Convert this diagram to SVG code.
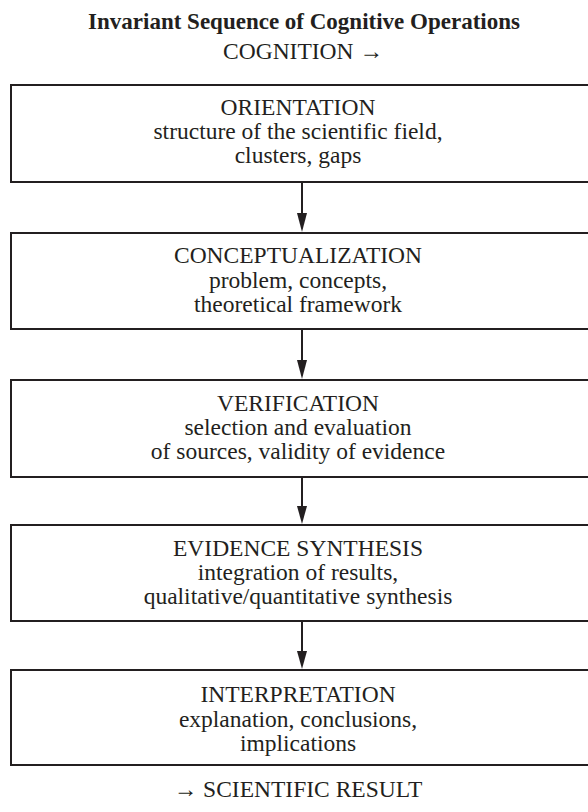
<svg xmlns="http://www.w3.org/2000/svg" width="588" height="812" viewBox="0 0 588 812">
<style>
text{font-family:"Liberation Serif","Times New Roman",serif;fill:#231f20;text-anchor:middle}
.t{font-size:23px;font-weight:bold}
.s{font-size:23.5px}
.box{fill:#fff;stroke:#231f20;stroke-width:2}
.conn line{stroke:#231f20;stroke-width:2}
.conn path{fill:#231f20}
</style>
<rect width="588" height="812" fill="#fff"/>
<g id="title">
<text class="t" x="304" y="29">Invariant Sequence of Cognitive Operations</text>
<text class="s" x="303" y="59">COGNITION →</text>
</g>
<g class="conn" id="connectors">
<line x1="302" y1="182" x2="302" y2="214"/>
<path d="M297,213 L307,213 L302,232 Z"/>
<line x1="302" y1="329" x2="302" y2="361"/>
<path d="M297,360 L307,360 L302,379 Z"/>
<line x1="302" y1="477" x2="302" y2="507"/>
<path d="M297,506 L307,506 L302,524 Z"/>
<line x1="302" y1="621" x2="302" y2="652"/>
<path d="M297,651 L307,651 L302,669 Z"/>
</g>
<g id="orientation">
<rect class="box" x="11" y="85" width="580" height="97"/>
<text class="s" x="298" y="115">ORIENTATION</text>
<text class="s" x="298" y="139">structure of the scientific field,</text>
<text class="s" x="298" y="163">clusters, gaps</text>
</g>
<g id="conceptualization">
<rect class="box" x="11" y="233" width="580" height="96"/>
<text class="s" x="298" y="263">CONCEPTUALIZATION</text>
<text class="s" x="298" y="288">problem, concepts,</text>
<text class="s" x="298" y="312">theoretical framework</text>
</g>
<g id="verification">
<rect class="box" x="11" y="380" width="580" height="97"/>
<text class="s" x="298" y="411">VERIFICATION</text>
<text class="s" x="298" y="435">selection and evaluation</text>
<text class="s" x="298" y="459">of sources, validity of evidence</text>
</g>
<g id="synthesis">
<rect class="box" x="11" y="525" width="580" height="96"/>
<text class="s" x="298" y="556">EVIDENCE SYNTHESIS</text>
<text class="s" x="298" y="580">integration of results,</text>
<text class="s" x="298" y="604">qualitative/quantitative synthesis</text>
</g>
<g id="interpretation">
<rect class="box" x="11" y="670" width="580" height="95"/>
<text class="s" x="298" y="702">INTERPRETATION</text>
<text class="s" x="298" y="727">explanation, conclusions,</text>
<text class="s" x="298" y="751">implications</text>
</g>
<g id="result">
<text class="s" x="298" y="797">→ SCIENTIFIC RESULT</text>
</g>
</svg>
